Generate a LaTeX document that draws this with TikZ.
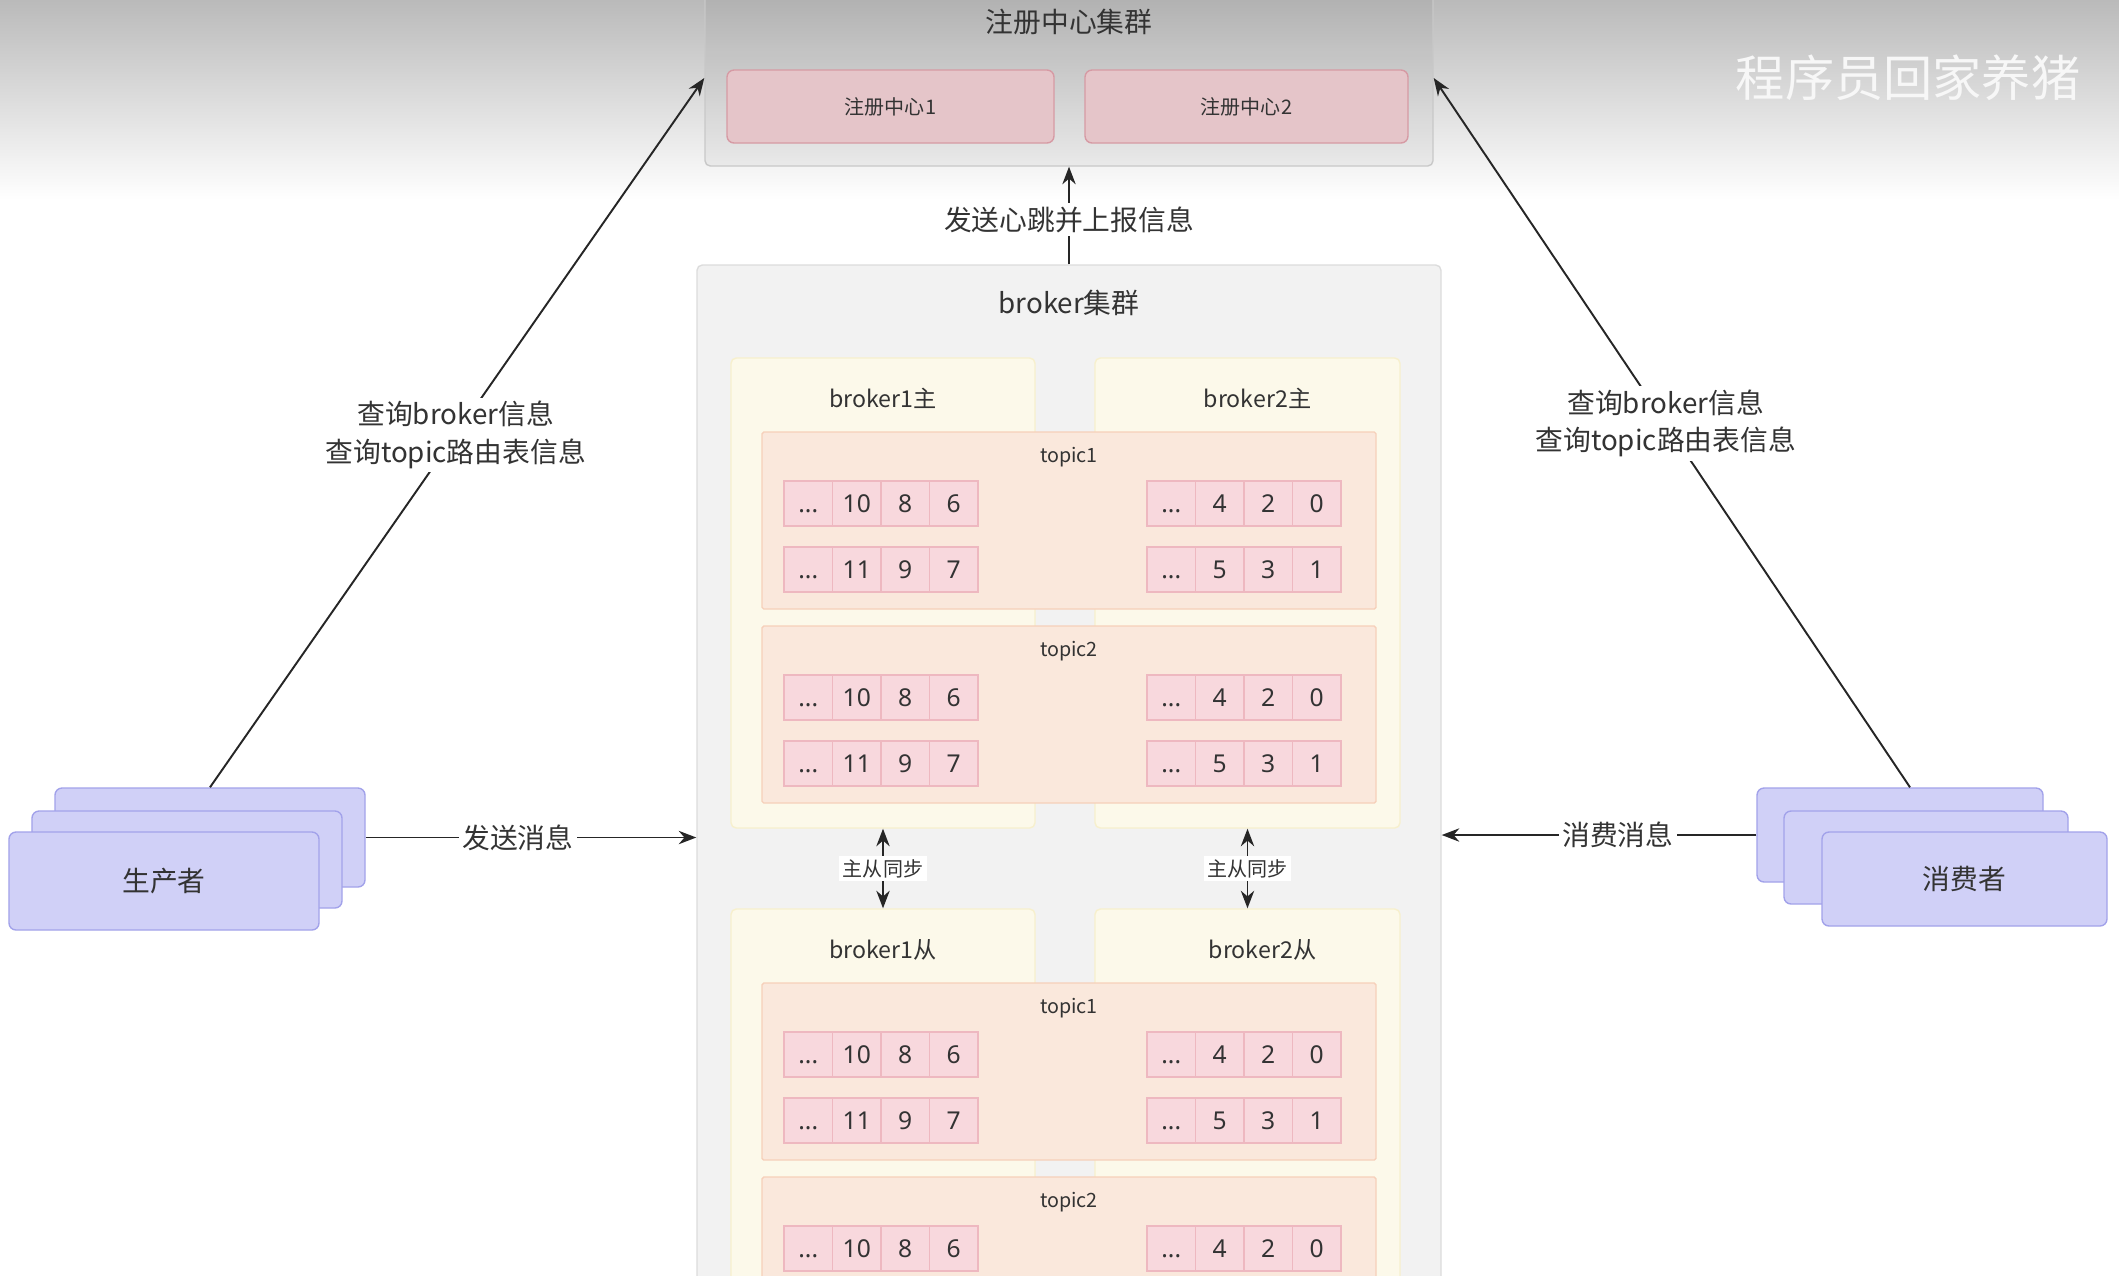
\documentclass[tikz,border=0pt]{standalone}
\usepackage{fontspec}
\setmainfont{Noto Sans CJK SC}
\newfontfamily\latinfont{Noto Sans}
\usetikzlibrary{arrows.meta,positioning}

\definecolor{ink}{RGB}{51,51,51}
\definecolor{bgtop}{RGB}{186,186,186}
\definecolor{regline}{RGB}{200,200,200}
\definecolor{pinkfill}{RGB}{229,197,201}
\definecolor{pinkline}{RGB}{214,154,164}
\definecolor{clusterfill}{RGB}{242,242,242}
\definecolor{clusterline}{RGB}{220,220,220}
\definecolor{brokerfill}{RGB}{252,249,234}
\definecolor{brokerline}{RGB}{247,240,205}
\definecolor{topicfill}{RGB}{250,232,220}
\definecolor{topicline}{RGB}{246,208,186}
\definecolor{cellfill}{RGB}{248,216,221}
\definecolor{cellline}{RGB}{238,184,192}
\definecolor{clientfill}{RGB}{208,208,247}
\definecolor{clientline}{RGB}{162,162,234}

\newcommand{\fsz}[1]{\fontsize{#1}{#1}\selectfont}
\newcommand{\ellip}{...}

\begin{document}
\begin{tikzpicture}[y=-1cm,
    box/.style={draw, line width=0.4pt, inner sep=0pt, rounded corners=1.5pt},
    regbox/.style={box, fill=pinkfill, draw=pinkline, text=ink, font=\fsz{5.7}, rounded corners=2pt},
    brokerbox/.style={box, fill=brokerfill, draw=brokerline, minimum width=3.04cm, minimum height=4.7cm},
    topicbox/.style={box, fill=topicfill, draw=topicline, rounded corners=0.5pt, minimum width=6.14cm, minimum height=1.77cm},
    cell/.style={draw=cellline, fill=cellfill, line width=0.4pt, text=ink, font=\latinfont\fsz{7},
                 minimum width=0.485cm, minimum height=0.45cm, inner sep=0pt,
                 text height=5pt, text depth=0pt},
    clientbox/.style={box, fill=clientfill, draw=clientline, rounded corners=2pt, text=ink, font=\fsz{7.9}},
    title/.style={text=ink, inner sep=1pt},
    lbl/.style={fill=white, text=ink, font=\fontsize{7.9}{10.6}\selectfont, inner sep=1pt},
    synclbl/.style={fill=white, text=ink, font=\fsz{5.7}, inner sep=1pt},
    conn/.style={draw=black!85, line width=0.55pt, -{Stealth[length=5pt,width=3.8pt]}},
    both/.style={{Stealth[length=5pt,width=3.8pt]}-{Stealth[length=5pt,width=3.8pt]}}]
    \useasboundingbox (0,0) rectangle (21.19,12.75);
    \clip (0,0) rectangle (21.19,12.75);

    % Background
    \shade[top color=bgtop, bottom color=white] (0,0) rectangle (21.19,2.0);
    \node[text=white!97!black, font=\fsz{14}] (mark) at (19.08,0.78) {程序员回家养猪};

    % Registry cluster
    \node[box, draw=regline, fill=black, fill opacity=0.04, draw opacity=1,
          minimum width=7.28cm, minimum height=1.76cm] (reg) at (10.69,0.78) {};
    \node[title, font=\fsz{7.9}] (regtitle) at (10.69,0.22) {注册中心集群};
    \node[regbox, minimum width=3.27cm, minimum height=0.73cm] (reg1) at (8.905,1.065) {注册中心1};
    \node[regbox, minimum width=3.23cm, minimum height=0.73cm] (reg2) at (12.465,1.065) {注册中心2};

    % Broker cluster
    \node[box, fill=clusterfill, draw=clusterline, minimum width=7.44cm, minimum height=10.65cm] (cluster) at (10.69,7.975) {};
    \node[title, font=\fsz{7.9}, below=0.22cm of cluster.north] (clustertitle) {broker集群};

    % Brokers, master and slave
    \foreach \role/\dy/\kind/\dx in {m/0/主/0.1, s/5.51/从/0.15} {
        \node[brokerbox] (b1\role) at (8.83,5.93+\dy) {};
        \node[brokerbox, minimum width=3.05cm] (b2\role) at (12.475,5.93+\dy) {};
        \node[title, font=\fsz{6.6}, below=0.27cm of b1\role.north] (b1\role title) {broker1\kind};
        \node[title, font=\fsz{6.6}, below=0.27cm of b2\role.north, xshift=\dx cm] (b2\role title) {broker2\kind};
        % Topics
        \foreach \t/\ty in {1/0, 2/1.94} {
            \node[topicbox] (t\t\role) at (10.69,5.205+\dy+\ty) {};
            \node[title, font=\fsz{5.6}, below=0.12cm of t\t\role.north] (t\t\role title) {topic\t};
            % Partitions (only the rows that lie on the page)
            \foreach \x/\ya/\va/\vb/\vc [count=\r] in {7.84/0/10/8/6, 7.84/0.66/11/9/7, 11.47/0/4/2/0, 11.47/0.66/5/3/1} {
                \pgfmathtruncatemacro{\onpage}{(5.035+\dy+\ty+\ya)<12.9}
                \ifnum\onpage=1
                \foreach \v [count=\i] in {\ellip,\va,\vb,\vc}
                    \node[cell] (c\role\t-\r-\i) at ({\x+0.2425+(\i-1)*0.485},{5.035+\dy+\ty+\ya}) {\v};
                \fi
            }
        }
    }

    % Producers and consumers
    \node[clientbox, minimum width=3.10cm, minimum height=0.99cm] (prod3) at (2.10,8.375) {};
    \node[clientbox, minimum width=3.10cm, minimum height=0.97cm] (prod2) at (1.87,8.595) {};
    \node[clientbox, minimum width=3.10cm, minimum height=0.98cm] (prod1) at (1.64,8.81) {生产者};
    \node[clientbox, minimum width=2.86cm, minimum height=0.94cm] (cons3) at (19.00,8.35) {};
    \node[clientbox, minimum width=2.84cm, minimum height=0.93cm] (cons2) at (19.26,8.575) {};
    \node[clientbox, minimum width=2.85cm, minimum height=0.94cm] (cons1) at (19.645,8.79) {消费者};

    % Connectors
    \draw[conn] (cluster.north) -- node[lbl, pos=0.455]{发送心跳并上报信息} (reg.south);
    \draw[conn, both] (b1m.south) -- node[synclbl]{主从同步} (b1s.north);
    \draw[conn, both] (b2m.south) -- node[synclbl]{主从同步} (b2s.north);
    \draw[conn] (prod3.east) -- node[lbl, pos=0.46]{发送消息} (prod3.east -| cluster.west);
    \draw[conn] (cons3.west) -- node[lbl, pos=0.44]{消费消息} (cons3.west -| cluster.east);
    \draw[conn] (prod3.north) -- node[lbl, align=center, pos=0.497]{查询broker信息\\查询topic路由表信息} (reg.west);
    \draw[conn] ([xshift=0.1cm]cons3.north) -- node[lbl, align=center, pos=0.513]{查询broker信息\\查询topic路由表信息} (reg.east);
\end{tikzpicture}
\end{document}
